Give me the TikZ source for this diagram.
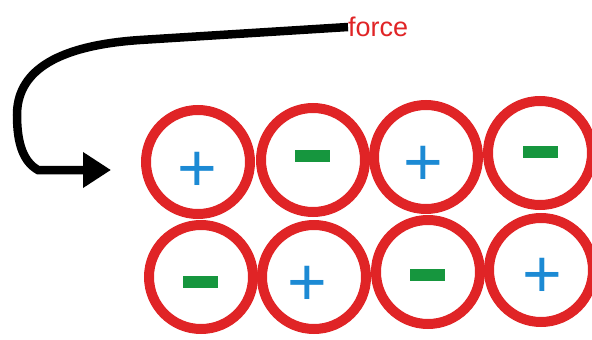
\documentclass[tikz,border=0pt]{standalone}
\usepackage{fontspec}
\setmainfont{Liberation Sans}
\usetikzlibrary{arrows.meta}
\definecolor{ionred}{RGB}{224,36,38}
\definecolor{ionblue}{RGB}{28,138,212}
\definecolor{iongreen}{RGB}{22,150,62}
\tikzset{
  ion/.style={circle,draw=ionred,line width=10pt,minimum size=104pt,inner sep=0pt},
  plussign/.style={text=ionblue,font=\fontsize{68}{68}\selectfont,inner sep=0pt,yshift=-6pt},
  minussign/.style={text=iongreen,inner sep=0pt}
}
\newcommand{\minusbar}{\rule{35pt}{12pt}}
\begin{document}
\begin{tikzpicture}[x=1pt,y=-1pt]
\useasboundingbox (0,0) rectangle (592,340);
%% ions, top row
\draw (198,162) node[ion](a1){} (313,160) node[ion](a2){}
(426,157) node[ion](a3){} (540,153) node[ion](a4){};
%% ions, bottom row
\draw (201,277) node[ion](b1){} (314,277) node[ion](b2){}
(428,272) node[ion](b3){} (541,270) node[ion](b4){};
%% charges
\draw (197,166) node[plussign](qa1){+} (312,156) node[minussign](qa2){\minusbar}
(423,160) node[plussign](qa3){+} (540,152) node[minussign](qa4){\minusbar}
(200,282) node[minussign](qb1){\minusbar} (307,280) node[plussign](qb2){+}
(427,275) node[minussign](qb3){\minusbar} (542,272) node[plussign](qb4){+};
%% force
\draw (348,27) node[right,inner sep=0pt,text=ionred,font=\fontsize{27}{27}\selectfont](force){force};
\coordinate (push) at (111,170);
\draw[line width=8.5pt,-{Triangle[length=28pt,width=34pt]}]
(force.west)--(140,40) .. controls (50,46) and (17,75) .. (17,115)
.. controls (17,145) and (24,162) .. (38,170) -- (push);
\end{tikzpicture}
\end{document}
